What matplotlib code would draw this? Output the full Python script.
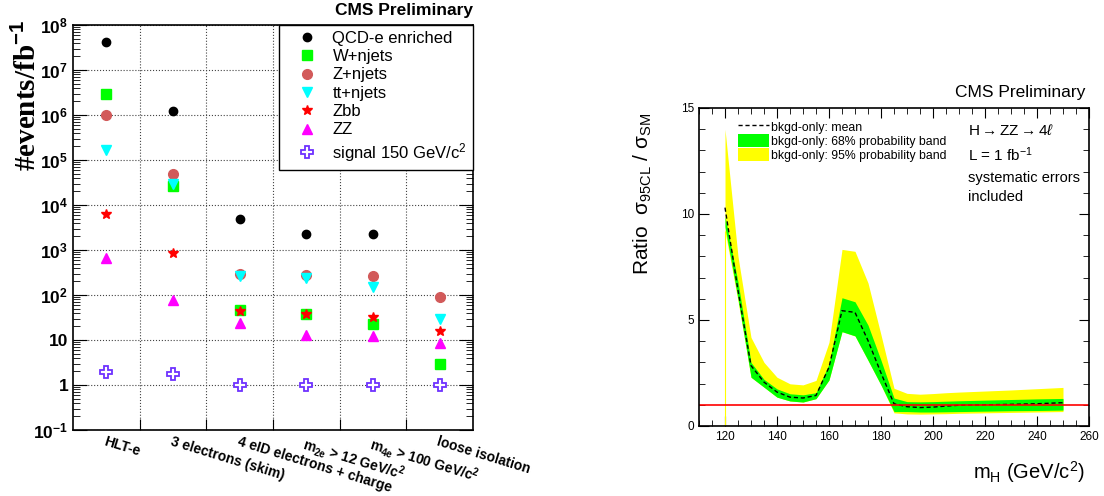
import numpy as np
import matplotlib
matplotlib.use('Agg')
import matplotlib.pyplot as plt
from matplotlib.lines import Line2D
from matplotlib.patches import Patch
from matplotlib.ticker import MultipleLocator, LogLocator, NullFormatter

plt.rcParams['font.family'] = ['Liberation Sans', 'DejaVu Sans']
plt.rcParams['mathtext.fontset'] = 'custom'
plt.rcParams['mathtext.rm'] = 'Liberation Sans'
plt.rcParams['mathtext.it'] = 'Liberation Sans:italic'
plt.rcParams['mathtext.bf'] = 'Liberation Sans:bold'

# ---- left panel data: events per fb^-1 after each selection step
cuts = ['HLT-e', '3 electrons (skim)', '4 eID electrons + charge',
        r'm$_{\mathbf{2e}}$ > 12 GeV/c$^{\mathbf{2}}$',
        r'm$_{\mathbf{4e}}$ > 100 GeV/c$^{\mathbf{2}}$', 'loose isolation']
qcd = [4.2e7, 1.2e6, 4.9e3, 2.3e3, 2.3e3, np.nan]
wjets = [2.9e6, 2.7e4, 47, 37, 23, 3.0]
zjets = [1.0e6, 4.8e4, 300, 275, 260, 89]
ttjets = [1.7e5, 2.9e4, 270, 240, 150, 30]
zbb = [6.2e3, 870, 43, 38, 33, 16]
zz = [660, 78, 24, 13, 12, 8.5]
signal = [1.95, 1.8, 1.0, 1.0, 1.0, 1.0]

# ---- right panel data: expected limit ratio vs Higgs mass
mass = [120, 125, 130, 135, 140, 145, 150, 155, 160, 165, 170, 175, 180,
        185, 190, 195, 200, 205, 210, 220, 230, 240, 250]
mean = [10.3, 6.4, 2.85, 2.07, 1.6, 1.36, 1.32, 1.44, 2.77, 5.44, 5.36, 4.03, 2.5,
        1.05, 0.91, 0.87, 0.89, 0.94, 0.98, 1.0, 1.02, 1.05, 1.1]
g_lo = [9.4, 6.0, 2.3, 1.83, 1.36, 1.18, 1.13, 1.29, 2.17, 4.45, 4.25, 3.1, 1.93,
        0.68, 0.68, 0.66, 0.66, 0.67, 0.68, 0.7, 0.72, 0.73, 0.75]
g_hi = [9.9, 6.8, 3.0, 2.2, 1.75, 1.52, 1.47, 1.57, 2.93, 6.05, 5.86, 4.76, 3.1,
        1.32, 1.15, 1.14, 1.15, 1.17, 1.19, 1.22, 1.25, 1.28, 1.3]
y_lo = [9.2, 5.9, 2.3, 1.83, 1.36, 1.18, 1.13, 1.29, 2.17, 4.45, 4.25, 3.1, 1.93,
        0.62, 0.57, 0.56, 0.57, 0.58, 0.6, 0.62, 0.64, 0.66, 0.68]
y_hi = [14.0, 8.0, 4.18, 3.0, 2.3, 1.99, 1.94, 2.15, 3.95, 8.33, 8.24, 6.75, 4.3,
        1.78, 1.54, 1.5, 1.53, 1.57, 1.6, 1.65, 1.7, 1.76, 1.82]

fig = plt.figure(figsize=(11.04, 4.96), dpi=100)

# ================= left panel =================
ax = fig.add_axes([73/1104, 1-430/496, 400/1104, 405/496])
xc = np.arange(len(cuts)) + 0.5
ax.plot(xc, qcd, 'o', color='black', ms=6, ls='none', label='QCD-e enriched')
ax.plot(xc, wjets, 's', color='#00ff00', ms=6.5, ls='none', label='W+njets')
ax.plot(xc, zjets, 'o', color='#d25a5a', ms=7, ls='none', label='Z+njets')
ax.plot(xc, ttjets, 'v', color='#00ffff', ms=7, ls='none', label='tt+njets')
ax.plot(xc, zbb, '*', color='#ff0000', ms=7.5, ls='none', label='Zbb')
ax.plot(xc, zz, '^', color='#ff00ff', ms=7, ls='none', label='ZZ')
ax.plot(xc, signal, 'P', mfc='white', mec='#6e32ff', mew=1.3, ms=8.5, ls='none',
        label=r'signal 150 GeV/c$^2$')

ax.set_yscale('log')
ax.set_ylim(0.1, 1e8)
ax.set_xlim(0, len(cuts))
ax.yaxis.set_major_locator(LogLocator(base=10, numticks=20))
ax.yaxis.set_minor_locator(LogLocator(base=10, subs=np.arange(2, 10), numticks=20))
ax.yaxis.set_minor_formatter(NullFormatter())
ytk = [0.1, 1, 10, 1e2, 1e3, 1e4, 1e5, 1e6, 1e7, 1e8]
ylb = [r'$\mathbf{10^{-1}}$', '1', '10'] + [r'$\mathbf{10^{%d}}$' % k for k in range(2, 9)]
ax.set_yticks(ytk)
ax.set_yticklabels(ylb, fontsize=12.5, fontweight='bold')
ax.set_xticks(np.arange(1, len(cuts)))
ax.set_xticklabels([])
ax.set_xticks(xc, minor=True)
ax.set_xticklabels(cuts, minor=True, rotation=-17, ha='left', va='top',
                   rotation_mode='anchor', fontsize=10, fontweight='bold')
ax.tick_params(axis='x', which='minor', length=0, pad=3)
ax.tick_params(axis='x', which='major', direction='in', length=8, top=False)
ax.tick_params(axis='y', which='both', direction='in', right=True)
ax.tick_params(axis='y', which='major', length=10)
ax.tick_params(axis='y', which='minor', length=5)
ax.grid(True, which='major', ls=':', color='#444444', lw=0.8)
for s in ax.spines.values():
    s.set_linewidth(1.2)

leg = ax.legend(loc='upper right', bbox_to_anchor=(1, 1), borderaxespad=0,
                fontsize=12, frameon=True, fancybox=False, edgecolor='black',
                labelspacing=0.2, handletextpad=0.25, borderpad=0.35,
                handlelength=2.6)
leg.get_frame().set_linewidth(1.0)
leg.get_frame().set_alpha(1)

fig.text(473/1104, 1-10/496, 'CMS Preliminary', ha='right', va='center',
         fontsize=12.5, fontweight='bold')
fig.text(27/1104, 1-20/496, r'#events/fb$^{\mathbf{-1}}$', rotation=90,
         ha='center', va='top', fontsize=21, fontweight='bold',
         family=['Liberation Serif', 'DejaVu Serif'])

# ================= right panel =================
bx = fig.add_axes([699/1104, 1-426/496, 390/1104, 318/496])
bx.fill_between(mass, y_lo, y_hi, color='#ffff00', lw=0)
bx.fill_between(mass, g_lo, g_hi, color='#00ff00', lw=0)
bx.vlines(mass[0], 0, y_lo[0], color='#ffff00', lw=0.8)
bx.plot(mass, mean, ls=(0, (3, 2)), color='black', lw=1)
bx.axhline(1, color='red', lw=1.2)
bx.axhline(0, color='#f0a0a0', lw=1)
bx.set_xlim(110, 260)
bx.set_ylim(0, 15)
bx.xaxis.set_major_locator(MultipleLocator(20))
bx.xaxis.set_minor_locator(MultipleLocator(5))
bx.yaxis.set_major_locator(MultipleLocator(5))
bx.yaxis.set_minor_locator(MultipleLocator(1))
bx.tick_params(which='both', direction='in', top=True, right=True, labelsize=8.5)
bx.tick_params(which='major', length=7)
bx.tick_params(which='minor', length=4)
bx.set_xticks([120, 140, 160, 180, 200, 220, 240, 260])
for s in bx.spines.values():
    s.set_linewidth(1.2)

hnd = [Line2D([], [], ls=(0, (3, 2)), color='black', lw=1),
       Patch(facecolor='#00ff00', edgecolor='none'),
       Patch(facecolor='#ffff00', edgecolor='none')]
lab = ['bkgd-only: mean', 'bkgd-only: 68% probability band',
       'bkgd-only: 95% probability band']
bx.legend(hnd, lab, loc='upper left', bbox_to_anchor=(0.1, 0.962),
          frameon=False, fontsize=8.8, handlelength=2.5, handleheight=1.25,
          handletextpad=0.2, labelspacing=0.05, borderpad=0, borderaxespad=0)

bx.text(0.69, 0.928, r'H$\rightarrow$ZZ$\rightarrow$4$\ell$', transform=bx.transAxes,
        fontsize=11, va='center')
bx.text(0.69, 0.852, r'L = 1 fb$^{-1}$', transform=bx.transAxes,
        fontsize=11, va='center')
bx.text(0.69, 0.78, 'systematic errors', transform=bx.transAxes,
        fontsize=10.5, va='center')
bx.text(0.69, 0.72, 'included', transform=bx.transAxes,
        fontsize=10.5, va='center')

fig.text(1085/1104, 1-92/496, 'CMS Preliminary', ha='right', va='center',
         fontsize=12.5)
fig.text(643/1104, 1-113/496, r'Ratio  σ$_{\mathrm{95CL}}$ / σ$_{\mathrm{SM}}$',
         rotation=90, ha='center', va='top', fontsize=15)
fig.text(1085/1104, 1-472/496, r'm$_{\mathrm{H}}$ (GeV/c$^2$)', ha='right',
         va='center', fontsize=14.5)

fig.savefig('out.png', dpi=100)
